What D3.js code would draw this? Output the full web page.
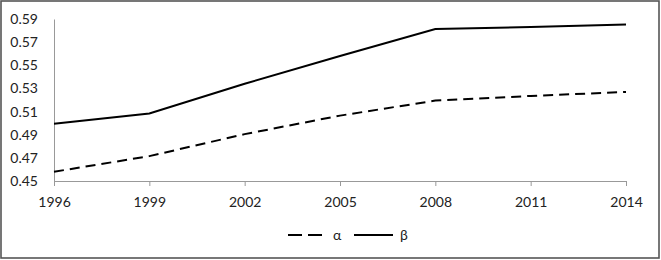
<!DOCTYPE html>
<html><head><meta charset="utf-8">
<script src="https://cdn.jsdelivr.net/npm/d3@7"></script>
<style>body{margin:0;background:#fff}svg{display:block}text{font-family:Lato,"Open Sans",sans-serif;fill:#222}</style>
</head><body><svg id="c" width="661" height="260"></svg>
<script>
const years = [1996, 1999, 2002, 2005, 2008, 2011, 2014];
const alphaValues = [0.458, 0.4715, 0.4905, 0.5065, 0.5195, 0.5235, 0.527];
const betaValues = [0.4995, 0.5083, 0.5340, 0.5580, 0.5813, 0.5830, 0.5853];
const yTicks = [0.45, 0.47, 0.49, 0.51, 0.53, 0.55, 0.57, 0.59];
const seriesNames = ["α", "β"];

const svg = d3.select("#c");
svg.append("rect").attr("x",1).attr("y",1).attr("width",658).attr("height",257)
  .attr("fill","#fff").attr("stroke","#555").attr("stroke-width",1.6);

const x = d3.scalePoint().domain(years).range([54, 626]);
const y = d3.scaleLinear().domain([0.45, 0.59]).range([181, 19]);

// y axis
const ya = svg.append("g").attr("transform","translate(54,0)")
  .call(d3.axisLeft(y).tickValues(yTicks).tickSize(0).tickPadding(16).tickFormat(d3.format(".2f")));
ya.select(".domain").attr("stroke","#999");
ya.selectAll("text").style("font-size","14px").attr("fill","#222");

// x axis
const xa = svg.append("g").attr("transform","translate(0,181)")
  .call(d3.axisBottom(x).tickSize(5).tickSizeOuter(0).tickPadding(11));
xa.select(".domain").attr("stroke","#999");
xa.selectAll(".tick line").attr("stroke","#999");
xa.selectAll("text").style("font-size","14px").attr("fill","#222");

const line = d3.line().x((d,i)=>x(years[i])).y(d=>y(d));
svg.append("path").datum(alphaValues).attr("d",line).attr("fill","none")
  .attr("stroke","#000").attr("stroke-width",2).attr("stroke-dasharray","10,6");
svg.append("path").datum(betaValues).attr("d",line).attr("fill","none")
  .attr("stroke","#000").attr("stroke-width",2);

// legend
const lg = svg.append("g");
lg.append("line").attr("x1",288).attr("x2",323).attr("y1",235).attr("y2",235)
  .attr("stroke","#000").attr("stroke-width",2).attr("stroke-dasharray","14,6");
lg.append("text").attr("x",333).attr("y",240).style("font-size","14px").text(seriesNames[0]);
lg.append("line").attr("x1",354).attr("x2",393).attr("y1",235).attr("y2",235)
  .attr("stroke","#000").attr("stroke-width",2);
lg.append("text").attr("x",400).attr("y",240).style("font-size","14px").text(seriesNames[1]);
</script></body></html>
